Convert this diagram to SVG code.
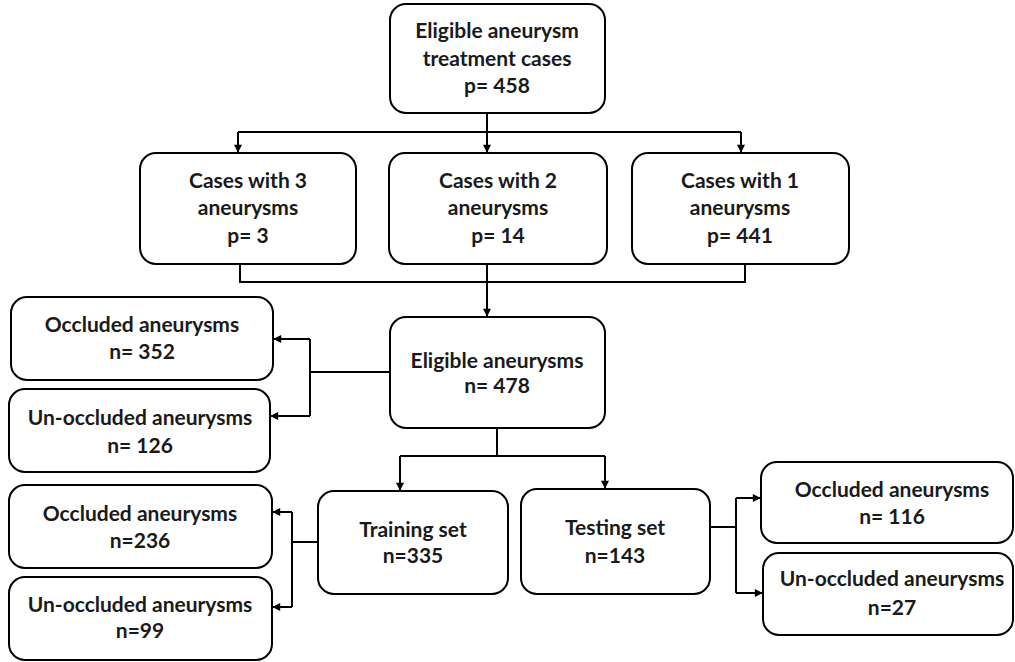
<svg xmlns="http://www.w3.org/2000/svg" width="1015" height="662" viewBox="0 0 1015 662">
<style>
.box{fill:#fff;stroke:#000;stroke-width:2}
.t{font-family:Lato,"Liberation Sans",sans-serif;font-weight:700;font-size:21px;fill:#1a1a1a;text-anchor:middle}
.c{fill:none;stroke:#000;stroke-width:2}
</style>
<defs>
<marker id="a" viewBox="0 0 10 10" refX="9" refY="5" markerWidth="9" markerHeight="8" orient="auto" markerUnits="userSpaceOnUse">
<path d="M0,0 L10,5 L0,10 z" fill="#000"/>
</marker>
</defs>
<rect width="1015" height="662" fill="#fff"/>
<g id="connectors">
<path class="c" d="M487,113 V152" marker-end="url(#a)"/>
<path class="c" d="M238,132 H741"/>
<path class="c" d="M238,132 V152" marker-end="url(#a)"/>
<path class="c" d="M741,132 V152" marker-end="url(#a)"/>
<path class="c" d="M240,264 V282 H745 V264"/>
<path class="c" d="M487,264 V316" marker-end="url(#a)"/>
<path class="c" d="M390,372 H310"/>
<path class="c" d="M310,339 V416"/>
<path class="c" d="M310,339 H274" marker-end="url(#a)"/>
<path class="c" d="M310,416 H271" marker-end="url(#a)"/>
<path class="c" d="M497,428 V456"/>
<path class="c" d="M400,456 H605"/>
<path class="c" d="M400,456 V490" marker-end="url(#a)"/>
<path class="c" d="M605,456 V488" marker-end="url(#a)"/>
<path class="c" d="M318,542 H292"/>
<path class="c" d="M292,512 V607"/>
<path class="c" d="M292,512 H273" marker-end="url(#a)"/>
<path class="c" d="M292,607 H273" marker-end="url(#a)"/>
<path class="c" d="M710,527 H736"/>
<path class="c" d="M736,498 V593"/>
<path class="c" d="M736,498 H760" marker-end="url(#a)"/>
<path class="c" d="M736,593 H762" marker-end="url(#a)"/>
</g>
<g id="n-top">
<rect class="box" x="390" y="4" width="215" height="109" rx="16"/>
<text class="t" x="497" y="38">Eligible aneurysm</text>
<text class="t" x="497" y="66">treatment cases</text>
<text class="t" x="497" y="93">p= 458</text>
</g>
<g id="n-case3">
<rect class="box" x="140" y="153" width="216" height="111" rx="16"/>
<text class="t" x="248" y="188">Cases with 3</text>
<text class="t" x="248" y="215">aneurysms</text>
<text class="t" x="248" y="243">p= 3</text>
</g>
<g id="n-case2">
<rect class="box" x="389" y="153" width="218" height="111" rx="16"/>
<text class="t" x="498" y="188">Cases with 2</text>
<text class="t" x="498" y="215">aneurysms</text>
<text class="t" x="498" y="243">p= 14</text>
</g>
<g id="n-case1">
<rect class="box" x="632" y="153" width="217" height="111" rx="16"/>
<text class="t" x="740" y="188">Cases with 1</text>
<text class="t" x="740" y="215">aneurysms</text>
<text class="t" x="740" y="243">p= 441</text>
</g>
<g id="n-eligible">
<rect class="box" x="390" y="317" width="215" height="111" rx="16"/>
<text class="t" x="497" y="368">Eligible aneurysms</text>
<text class="t" x="497" y="393">n= 478</text>
</g>
<g id="n-occ1">
<rect class="box" x="11" y="297" width="262" height="83" rx="16"/>
<text class="t" x="142" y="332">Occluded aneurysms</text>
<text class="t" x="142" y="359">n= 352</text>
</g>
<g id="n-unocc1">
<rect class="box" x="9" y="389" width="261" height="83" rx="16"/>
<text class="t" x="140" y="425">Un-occluded aneurysms</text>
<text class="t" x="140" y="453">n= 126</text>
</g>
<g id="n-train">
<rect class="box" x="318" y="491" width="190" height="103" rx="16"/>
<text class="t" x="413" y="537">Training set</text>
<text class="t" x="413" y="563">n=335</text>
</g>
<g id="n-test">
<rect class="box" x="521" y="489" width="189" height="105" rx="16"/>
<text class="t" x="615" y="535">Testing set</text>
<text class="t" x="615" y="563">n=143</text>
</g>
<g id="n-occ2">
<rect class="box" x="9" y="485" width="263" height="83" rx="16"/>
<text class="t" x="140" y="521">Occluded aneurysms</text>
<text class="t" x="140" y="548">n=236</text>
</g>
<g id="n-unocc2">
<rect class="box" x="9" y="577" width="263" height="83" rx="16"/>
<text class="t" x="140" y="612">Un-occluded aneurysms</text>
<text class="t" x="140" y="638">n=99</text>
</g>
<g id="n-occ3">
<rect class="box" x="761" y="462" width="252" height="81" rx="16"/>
<text class="t" x="892" y="497">Occluded aneurysms</text>
<text class="t" x="892" y="524">n= 116</text>
</g>
<g id="n-unocc3">
<rect class="box" x="763" y="553" width="250" height="82" rx="16"/>
<text class="t" x="892" y="586">Un-occluded aneurysms</text>
<text class="t" x="892" y="615">n=27</text>
</g>
</svg>
